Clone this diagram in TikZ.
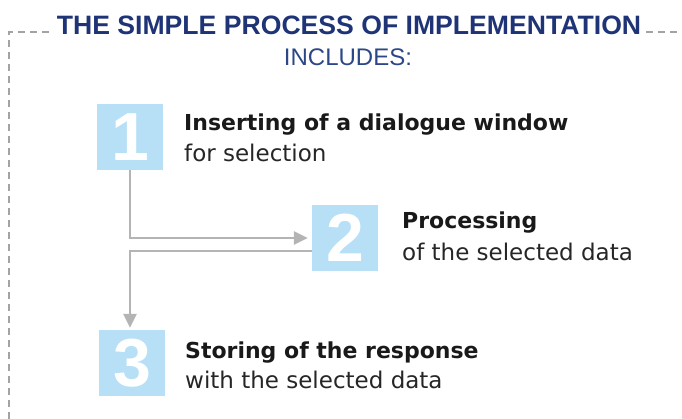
\documentclass[tikz,border=0pt]{standalone}
\usepackage{fontspec}
\setmainfont{Liberation Sans}
\newfontfamily\bodyfont{DejaVu Sans}
\usepackage{xcolor}
\usetikzlibrary{arrows.meta}
\definecolor{titleblue}{HTML}{1F3476}
\definecolor{subblue}{HTML}{2C4788}
\definecolor{boxblue}{HTML}{B7E0F6}
\definecolor{flowgray}{HTML}{B4B4B4}
\definecolor{framegray}{HTML}{A3A3A3}
\tikzset{
  numbox/.style={fill=boxblue,text=white,minimum size=66pt,inner sep=0pt,font=\fontsize{68}{68}\selectfont\bfseries},
  headtext/.style={anchor=base west,inner sep=0pt,text=black!90,font=\bodyfont\fontsize{22}{26}\selectfont\bfseries},
  subtext/.style={anchor=base west,inner sep=0pt,text=black!85,font=\bodyfont\fontsize{23}{27}\selectfont},
  flow/.style={draw=flowgray,line width=2.8pt,-{Triangle[length=14pt,width=13pt]}},
  frame/.style={draw=framegray,line width=1.8pt,dash pattern=on 7pt off 5pt}
}

\begin{document}
\begin{tikzpicture}[x=1pt,y=-1pt]
  \useasboundingbox (0,0) rectangle (682,419);
  \node[anchor=base,inner sep=0pt,text=titleblue,font=\fontsize{26.6}{30}\selectfont\bfseries] (title) at (349,35) {THE SIMPLE PROCESS OF IMPLEMENTATION};
  \node[anchor=base,inner sep=0pt,text=subblue,font=\fontsize{24}{28}\selectfont] (includes) at (348,66) {INCLUDES:};
  \coordinate (framebottom) at (9,419);
  \coordinate (frameright) at (682,32);
  \draw[frame] (framebottom) |- ([xshift=-5pt,yshift=3pt]title.base west);
  \draw[frame] ([xshift=5pt,yshift=3pt]title.base east) -- (frameright);
  % steps
  \node[numbox] (n1) at (130,137) {1};
  \node[numbox] (n2) at (345,238) {2};
  \node[numbox] (n3) at (132,363) {3};
  \node[headtext] (h1) at (184,131) {Inserting of a dialogue window};
  \node[subtext] (s1) at (184,162) {for selection};
  \node[headtext] (h2) at (402,229) {Processing};
  \node[subtext] (s2) at (402,261) {of the selected data};
  \node[headtext] (h3) at (185,358) {Storing of the response};
  \node[subtext] (s3) at (185,388) {with the selected data};
  % connectors
  \draw[flow,shorten >=4pt] (n1.south) |- (n2.west);
  \draw[flow,shorten >=2pt] ([yshift=-13pt]n2.west) -| ([xshift=-2pt]n3.north);
\end{tikzpicture}
\end{document}
